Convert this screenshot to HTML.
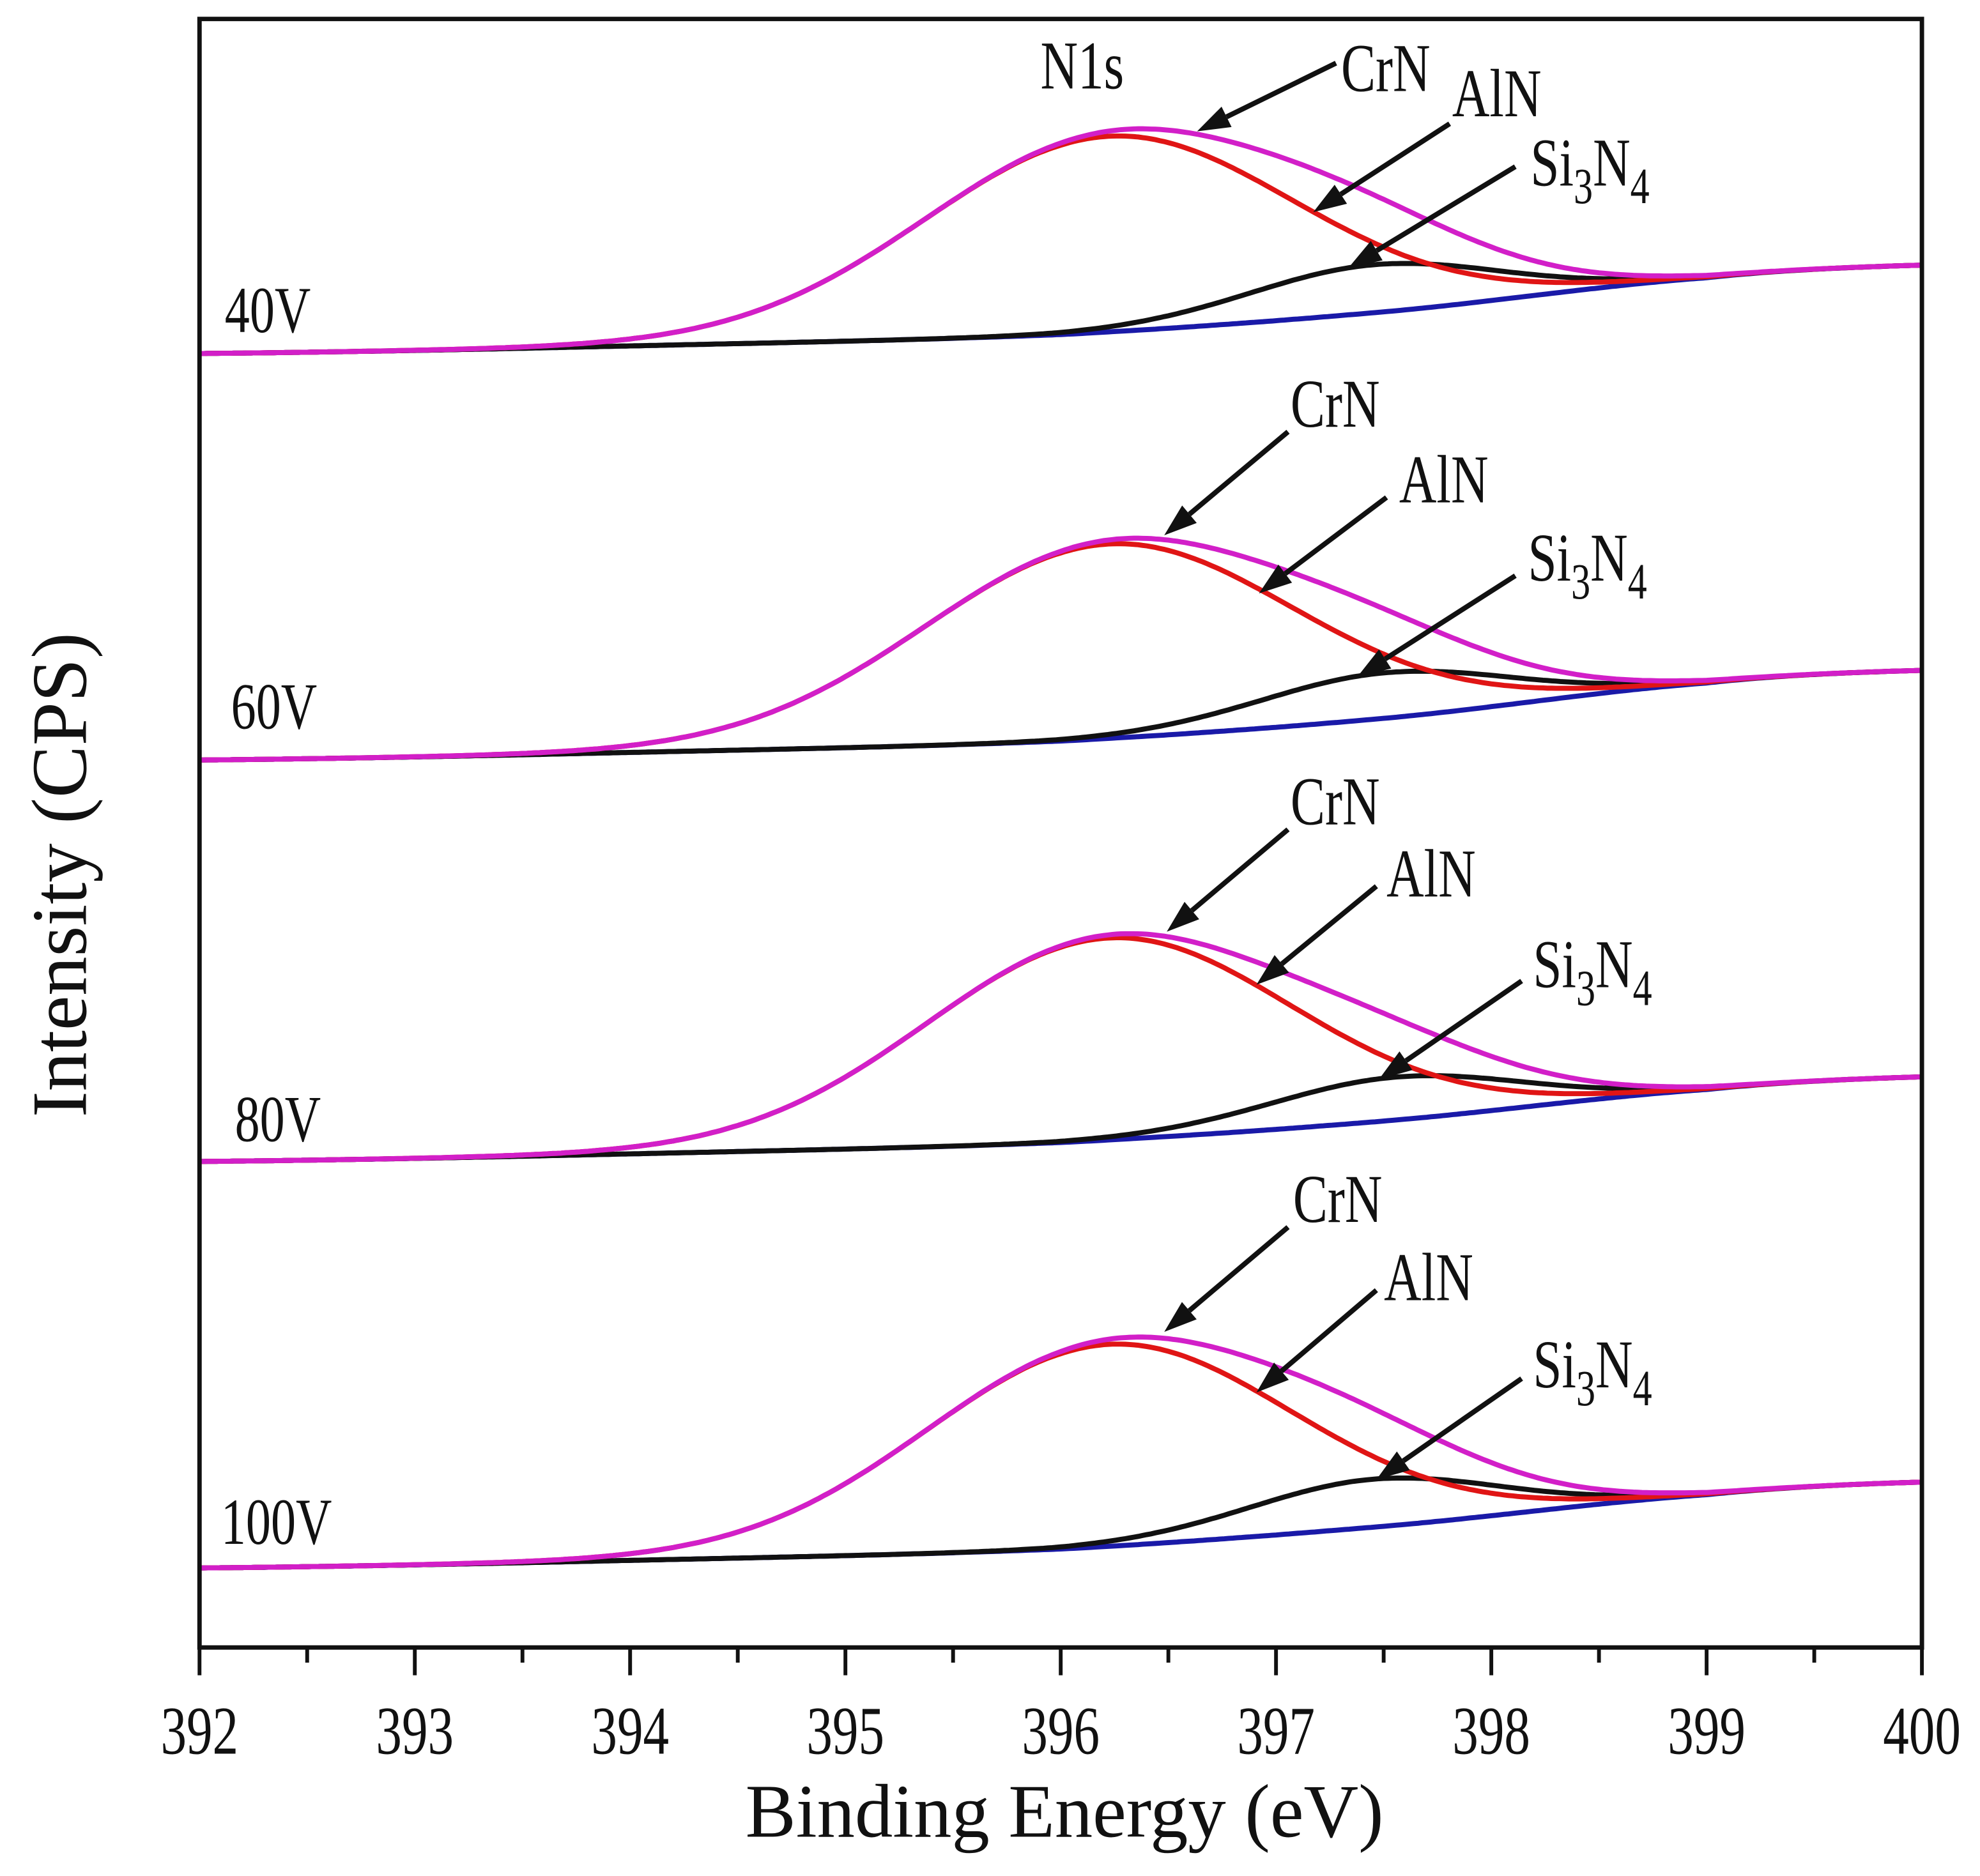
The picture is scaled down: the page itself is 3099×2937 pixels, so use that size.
<!DOCTYPE html>
<html><head><meta charset="utf-8"><style>
html,body{margin:0;padding:0;background:#fff;}
svg{display:block;}
text{font-family:"Liberation Serif",serif;fill:#111;}
</style></head><body>
<svg id="chart" width="3099" height="2937" viewBox="0 0 1568 1486" xmlns="http://www.w3.org/2000/svg">
<rect x="0" y="0" width="1568" height="1486" fill="#fff"/>
<g id="plot"></g>
<rect x="158" y="15" width="1364" height="1290" fill="none" stroke="#111" stroke-width="3.5"/>
<g id="xaxis"></g>
<text x="843" y="1455" font-size="60" text-anchor="middle">Binding Energy (eV)</text>
<text transform="translate(68,693) rotate(-90)" font-size="62" text-anchor="middle">Intensity (CPS)</text>
</svg>
<script>
// ---- data ----
const xTicks = [392,393,394,395,396,397,398,399,400];
const spectraNames = ["40V","60V","80V","100V"];
// baseline knot energies and baseline intensity (arb. units = px above x-axis)
const baselineEnergies = [392,394,396,397.5,399,400];
const baseline40 = [1025,1031,1040,1058,1085,1095];
const baseline60 = [703,709,718,736,764,774];
const baseline80 = [385,391,400,417,442,452];
const baseline100 = [63,69,78,96,121,131];
// AlN (red) component: amplitude, center, sigma
const redAmp = [155,154,160,160];
const redCenter = [396.22,396.22,396.22,396.22];
const redSigma = [0.86,0.86,0.85,0.85];
// Si3N4 (black) component
const blackAmp = [38,36,34,38];
const blackCenter = [397.45,397.5,397.55,397.45];
const blackSigma = [0.58,0.58,0.58,0.58];
// label positions
const labelY = [243,557,884,1203];
const labelX = [178,183,186,175];
// ---- scales ----
const X0=158, X1=1522, XMIN=392, XMAX=400, YB=1305;
const xS = e => X0 + (e-XMIN)/(XMAX-XMIN)*(X1-X0);
const yS = v => YB - v;
const NS="http://www.w3.org/2000/svg";
const plot=document.getElementById('plot');
const xaxis=document.getElementById('xaxis');
function mk(tag, attrs, parent){const el=document.createElementNS(NS,tag);for(const k in attrs)el.setAttribute(k,attrs[k]);parent.appendChild(el);return el;}
function baseAt(knots, e){
  const E=baselineEnergies;let i=0;while(i<E.length-2&&e>E[i+1])i++;
  const p0=knots[Math.max(i-1,0)],p1=knots[i],p2=knots[i+1],p3=knots[Math.min(i+2,E.length-1)];
  const t=(e-E[i])/(E[i+1]-E[i]);
  return 0.5*((2*p1)+(-p0+p2)*t+(2*p0-5*p1+4*p2-p3)*t*t+(-p0+3*p1-3*p2+p3)*t*t*t);
}
const gauss=(a,c,s,e)=>a*Math.exp(-((e-c)**2)/(2*s*s));
const baselines=[baseline40,baseline60,baseline80,baseline100];
const N=400;
spectraNames.forEach((nm,k)=>{
  const g=mk('g',{},plot);
  
  
  let pb='',pr='',pk='',pm='';
  for(let i=0;i<=N;i++){
    const e=XMIN+(XMAX-XMIN)*i/N;
    const b=baseAt(baselines[k],e);
    const r=gauss(redAmp[k],redCenter[k],redSigma[k],e);
    const bl=gauss(blackAmp[k],blackCenter[k],blackSigma[k],e);
    const x=xS(e).toFixed(1);
    const c=i?'L':'M';
    pb+=c+x+','+yS(b).toFixed(1);
    pr+=c+x+','+yS(b+r).toFixed(1);
    pk+=c+x+','+yS(b+bl).toFixed(1);
    pm+=c+x+','+yS(b+r+bl).toFixed(1);
  }
  const lb=mk('path',{d:pb,fill:'none',stroke:'#1a1aa8','stroke-width':4},g);
  
  
  const lk=mk('path',{d:pk,fill:'none',stroke:'#111','stroke-width':4},g);
  
  
  const lr=mk('path',{d:pr,fill:'none',stroke:'#e01515','stroke-width':4},g);
  
  
  const lm=mk('path',{d:pm,fill:'none',stroke:'#d21fc8','stroke-width':4},g);
  
  
  const t=mk('text',{x:0,y:0,'font-size':52,transform:`translate(${labelX[k]},${labelY[k]+20}) scale(0.76,1)`},plot);
  t.textContent=nm;
  
  
});
function label(str,x,y,name){
  const t=mk('text',{x:0,y:0,'font-size':54,transform:`translate(${x},${y}) scale(0.76,1)`},plot);
  if(str==='Si3N4'){t.innerHTML='Si<tspan font-size="40" dy="14">3</tspan><tspan dy="-14">N</tspan><tspan font-size="40" dy="14">4</tspan>';}
  else t.textContent=str;
  
  
}
function arrow(x1,y1,x2,y2,name){
  const g=mk('g',{},plot);
  
  
  const dx=x2-x1,dy=y2-y1,L=Math.hypot(dx,dy),ux=dx/L,uy=dy/L;
  const hl=26,hw=9;
  const bx=x2-ux*hl,by=y2-uy*hl;
  mk('line',{x1:x1,y1:y1,x2:bx,y2:by,stroke:'#111','stroke-width':4},g);
  mk('polygon',{points:`${x2},${y2} ${bx-uy*hw},${by+ux*hw} ${bx+uy*hw},${by-ux*hw}`,fill:'#111'},g);
}
label('N1s',824,70,'n1s-label');
label('CrN',1062,72,'crn-label-40v'); arrow(1058,50,948,104,'crn-arrow-40v');
label('AlN',1150,92,'aln-label-40v'); arrow(1148,98,1040,168,'aln-arrow-40v');
label('Si3N4',1212,147,'si3n4-label-40v'); arrow(1200,132,1068,212,'si3n4-arrow-40v');
label('CrN',1022,338,'crn-label-60v'); arrow(1020,342,922,424,'crn-arrow-60v');
label('AlN',1108,398,'aln-label-60v'); arrow(1098,394,997,470,'aln-arrow-60v');
label('Si3N4',1210,460,'si3n4-label-60v'); arrow(1200,456,1075,536,'si3n4-arrow-60v');
label('CrN',1022,653,'crn-label-80v'); arrow(1020,657,924,738,'crn-arrow-80v');
label('AlN',1098,710,'aln-label-80v'); arrow(1090,702,995,780,'aln-arrow-80v');
label('Si3N4',1214,782,'si3n4-label-80v'); arrow(1205,777,1092,855,'si3n4-arrow-80v');
label('CrN',1024,968,'crn-label-100v'); arrow(1020,972,922,1055,'crn-arrow-100v');
label('AlN',1096,1030,'aln-label-100v'); arrow(1090,1022,995,1103,'aln-arrow-100v');
label('Si3N4',1214,1099,'si3n4-label-100v'); arrow(1205,1092,1090,1172,'si3n4-arrow-100v');
xTicks.forEach(v=>{
  const x=xS(v);
  const l=mk('line',{x1:x,y1:YB,x2:x,y2:YB+22,stroke:'#111','stroke-width':3},xaxis);
  
  
  const t=mk('text',{x:0,y:0,'font-size':54,'text-anchor':'middle',transform:`translate(${x},${YB+84}) scale(0.76,1)`},xaxis);
  t.textContent=v;
  
  
  if(v<XMAX){
    const m=mk('line',{x1:xS(v+0.5),y1:YB,x2:xS(v+0.5),y2:YB+12,stroke:'#111','stroke-width':3},xaxis);
    
    
  }
});
</script>
</body></html>
